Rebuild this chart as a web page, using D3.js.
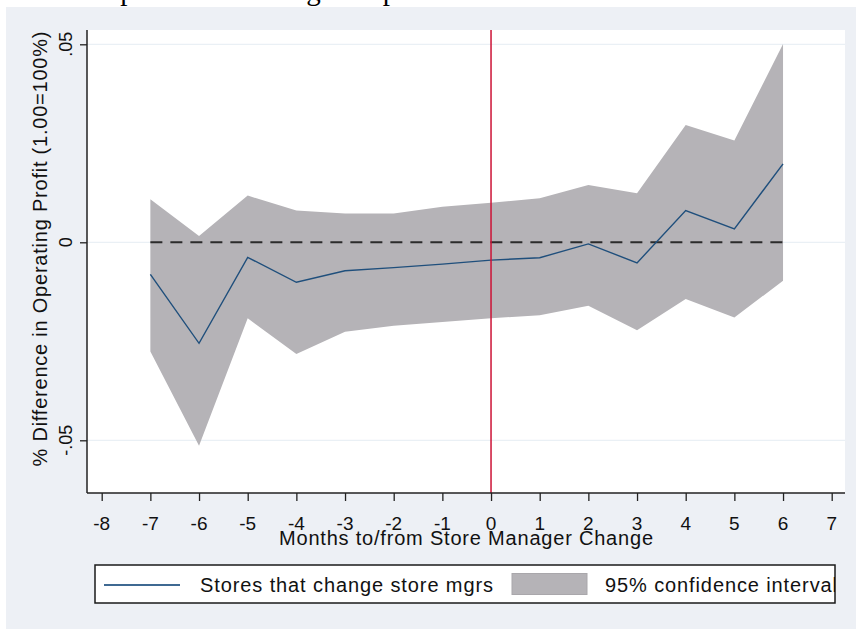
<!DOCTYPE html>
<html>
<head>
<meta charset="utf-8">
<script src="https://cdn.jsdelivr.net/npm/d3@7/dist/d3.min.js"></script>
<style>
  html, body { margin: 0; padding: 0; background: #ffffff; }
  svg { display: block; }
  text { font-family: "Liberation Sans", Arial, sans-serif; fill: #111; }
</style>
</head>
<body>
<svg id="chart" width="856" height="629"></svg>
<script>
// Months relative to the store manager change
const months = [-7, -6, -5, -4, -3, -2, -1, 0, 1, 2, 3, 4, 5, 6];
// Point estimate: % difference in operating profit
const estimate = [-0.0081, -0.0255, -0.0038, -0.0101, -0.0072, -0.0064, -0.0055, -0.0045, -0.0039, -0.0004, -0.0052, 0.0080, 0.0034, 0.0198];
// 95% confidence interval bounds
const upper = [0.0109, 0.0016, 0.0118, 0.0080, 0.0073, 0.0073, 0.0090, 0.0100, 0.0111, 0.0145, 0.0124, 0.0296, 0.0257, 0.0501];
const lower = [-0.0276, -0.0514, -0.0192, -0.0282, -0.0226, -0.0211, -0.0201, -0.0192, -0.0184, -0.0160, -0.0222, -0.0143, -0.0190, -0.0097];

// Axis ticks and labels
const xTicks = d3.range(-8, 8);
const yTicks = [-0.05, 0, 0.05];
const yTickLabels = ["-.05", "0", ".05"];
const xTitle = "Months to/from Store Manager Change";
const yTitle = "% Difference in Operating Profit (1.00=100%)";
const seriesLabel = "Stores that change store mgrs";
const bandLabel = "95% confidence interval";
const headline = "Experienced Manager Replacements";

const rows = months.map((m, i) => ({ m, est: estimate[i], hi: upper[i], lo: lower[i] }));

const svg = d3.select("#chart");
const plot = { left: 87, right: 845, top: 30, bottom: 493 };

const x = d3.scaleLinear().domain([-8, 7]).range([101.7, 831.7]);
const y = d3.scaleLinear().domain([-0.05, 0.05]).range([440.3, 44.3]);

// Running headline of the page above the graph (only its lowest edge shows)
svg.append("text")
  .attr("x", 88).attr("y", -0.5)
  .style("font-family", "'Liberation Serif', 'Times New Roman', serif")
  .style("font-size", "29px")
  .style("fill", "#000")
  .text(headline);

// Graph region
svg.append("rect")
  .attr("x", 6).attr("y", 7).attr("width", 850).attr("height", 622)
  .attr("fill", "#edf0f5");

// Plot region
svg.append("rect")
  .attr("x", plot.left).attr("y", plot.top)
  .attr("width", plot.right - plot.left).attr("height", plot.bottom - plot.top)
  .attr("fill", "#ffffff");

// Horizontal grid lines
svg.append("g").selectAll("line").data(yTicks).join("line")
  .attr("x1", plot.left).attr("x2", plot.right)
  .attr("y1", d => y(d)).attr("y2", d => y(d))
  .attr("stroke", "#eaf0f5").attr("stroke-width", 1.2);

// Confidence band
const band = d3.area()
  .x(d => x(d.m))
  .y0(d => y(d.lo))
  .y1(d => y(d.hi));
svg.append("path").datum(rows)
  .attr("d", band)
  .attr("fill", "#b5b3b7");

// Zero reference line
svg.append("line")
  .attr("x1", x(months[0])).attr("x2", x(months[months.length - 1]))
  .attr("y1", y(0)).attr("y2", y(0))
  .attr("stroke", "#2b2b2b").attr("stroke-width", 2)
  .attr("stroke-dasharray", "12,8");

// Point estimate line
const line = d3.line().x(d => x(d.m)).y(d => y(d.est));
svg.append("path").datum(rows)
  .attr("d", line)
  .attr("fill", "none")
  .attr("stroke", "#1f4f7c").attr("stroke-width", 1.4);

// Month of manager change
svg.append("line")
  .attr("x1", x(0)).attr("x2", x(0))
  .attr("y1", plot.top).attr("y2", plot.bottom)
  .attr("stroke", "#cc1236").attr("stroke-width", 1.5);

// Y axis
const yAxis = svg.append("g").attr("transform", `translate(${plot.left},0)`)
  .call(d3.axisLeft(y).tickValues(yTicks).tickSize(7).tickFormat(""));
yAxis.select(".domain").remove();
yAxis.selectAll(".tick line").attr("stroke", "#222").attr("stroke-width", 1.3);
svg.append("line")
  .attr("x1", plot.left).attr("x2", plot.left)
  .attr("y1", plot.top).attr("y2", plot.bottom)
  .attr("stroke", "#222").attr("stroke-width", 1.5);

svg.append("g").selectAll("text").data(yTicks).join("text")
  .attr("transform", d => `translate(72,${y(d)}) rotate(-90)`)
  .attr("text-anchor", "middle")
  .style("font-size", "18px")
  .text((d, i) => yTickLabels[i]);

svg.append("text")
  .attr("transform", "translate(47,249) rotate(-90)")
  .attr("text-anchor", "middle")
  .attr("textLength", 435).attr("lengthAdjust", "spacing")
  .style("font-size", "20px")
  .text(yTitle);

// X axis
const xAxis = svg.append("g").attr("transform", `translate(0,${plot.bottom})`)
  .call(d3.axisBottom(x).tickValues(xTicks).tickSize(8).tickFormat(""));
xAxis.select(".domain").remove();
xAxis.selectAll(".tick line").attr("stroke", "#222").attr("stroke-width", 1.3);
svg.append("line")
  .attr("x1", plot.left).attr("x2", plot.right)
  .attr("y1", plot.bottom).attr("y2", plot.bottom)
  .attr("stroke", "#222").attr("stroke-width", 1.5);

svg.append("g").selectAll("text").data(xTicks).join("text")
  .attr("x", d => x(d)).attr("y", 529.5)
  .attr("text-anchor", "middle")
  .style("font-size", "19px")
  .text(d => d3.format("d")(d).replace("\u2212", "-"));

svg.append("text")
  .attr("x", 466).attr("y", 545)
  .attr("text-anchor", "middle")
  .attr("textLength", 374).attr("lengthAdjust", "spacing")
  .style("font-size", "20px")
  .text(xTitle);

// Legend
const legend = svg.append("g");
svg.append("clipPath").attr("id", "legend-clip")
  .append("rect").attr("x", 95).attr("y", 565).attr("width", 740).attr("height", 38);
legend.append("rect")
  .attr("x", 95).attr("y", 565).attr("width", 740).attr("height", 38)
  .attr("fill", "#ffffff").attr("stroke", "#1a1a1a").attr("stroke-width", 1.5);
legend.append("line")
  .attr("x1", 104).attr("x2", 180).attr("y1", 585).attr("y2", 585)
  .attr("stroke", "#3f6992").attr("stroke-width", 2);
legend.append("text")
  .attr("x", 200).attr("y", 592)
  .attr("textLength", 293).attr("lengthAdjust", "spacing")
  .style("font-size", "20px")
  .text(seriesLabel);
legend.append("rect")
  .attr("x", 512).attr("y", 573.5).attr("width", 75).attr("height", 21)
  .attr("fill", "#b5b3b7").attr("stroke", "#a9a7ab").attr("stroke-width", 1);
legend.append("text")
  .attr("x", 605).attr("y", 592)
  .attr("textLength", 232).attr("lengthAdjust", "spacing")
  .attr("clip-path", "url(#legend-clip)")
  .style("font-size", "20px")
  .text(bandLabel);
</script>
</body>
</html>
